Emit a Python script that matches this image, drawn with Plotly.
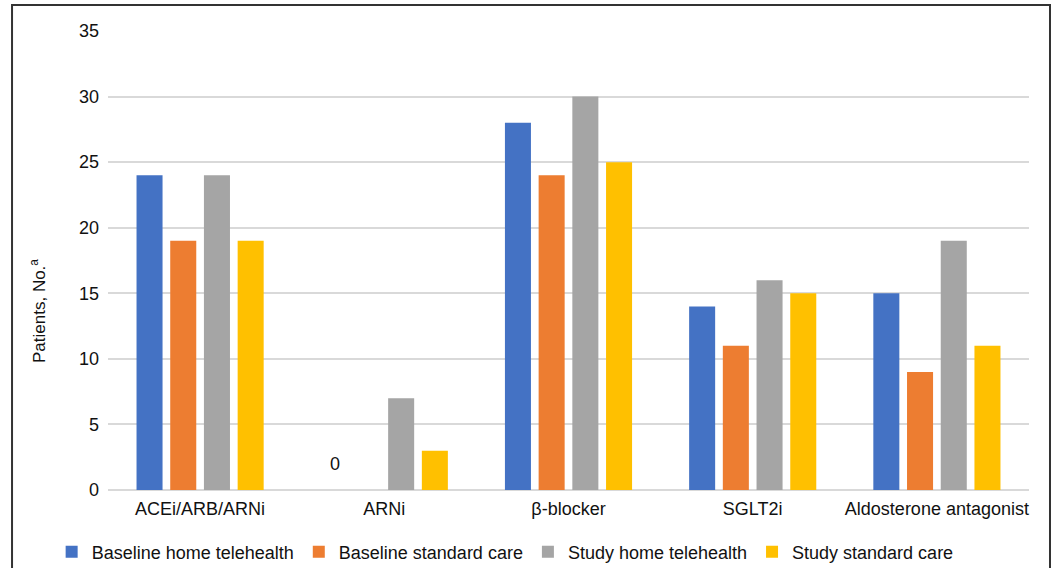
import plotly.graph_objects as go

categories = ["ACEi/ARB/ARNi", "ARNi", "β-blocker", "SGLT2i", "Aldosterone antagonist"]
baseline_home = [24, 0, 28, 14, 15]
baseline_standard = [19, 0, 24, 11, 9]
study_home = [24, 7, 30, 16, 19]
study_standard = [19, 3, 25, 15, 11]

series = [
    ("Baseline home telehealth", baseline_home, "#4472C4"),
    ("Baseline standard care", baseline_standard, "#ED7D31"),
    ("Study home telehealth", study_home, "#A5A5A5"),
    ("Study standard care", study_standard, "#FFC000"),
]

FONT = "Liberation Sans, Arial, Helvetica, sans-serif"

fig = go.Figure()
for name, vals, color in series:
    fig.add_trace(go.Bar(
        name=name, x=categories, y=vals,
        marker=dict(color=color, line=dict(width=0)),
    ))

# value label on the ARNi baseline home telehealth bar
fig.add_annotation(
    x=categories[1], y=baseline_home[1], text=str(baseline_home[1]),
    showarrow=False, xshift=-49, yshift=14, yanchor="bottom",
    font=dict(family=FONT, size=18, color="#111"),
)

# rotated y-axis title
fig.add_annotation(
    xref="paper", yref="paper", x=-0.076, y=0.39, xanchor="center", yanchor="middle",
    text="Patients, No.<sup>a</sup>", textangle=-90, showarrow=False,
    font=dict(family=FONT, size=17, color="#111"),
)

# outer frame
fig.add_shape(
    type="rect", xref="paper", yref="paper",
    x0=-0.1042, x1=1.0228, y0=-0.3, y1=1.0566,
    line=dict(color="#333", width=2), fillcolor="rgba(0,0,0,0)", layer="below",
)

fig.update_layout(
    width=1054, height=568,
    margin=dict(l=108, r=25, t=31, b=78),
    paper_bgcolor="white", plot_bgcolor="white",
    barmode="group", bargap=0.268, bargroupgap=0.228,
    font=dict(family=FONT, size=18, color="#111"),
    showlegend=True,
    legend=dict(
        orientation="h", xref="container", yref="container",
        x=0.049, y=0.028, xanchor="left", yanchor="middle",
        font=dict(family=FONT, size=18, color="#111"),
        itemwidth=30, bgcolor="rgba(0,0,0,0)",
    ),
    xaxis=dict(
        showgrid=False, showline=False, ticks="",
        ticklabelstandoff=6,
        tickfont=dict(family=FONT, size=18, color="#111"),
    ),
    yaxis=dict(
        range=[0, 35], dtick=5, showgrid=True, gridcolor="#d9d9d9", gridwidth=2,
        zeroline=True, zerolinecolor="#d9d9d9", zerolinewidth=2,
        showline=False, ticks="", ticklabelstandoff=8,
        tickfont=dict(family=FONT, size=18, color="#111"),
    ),
)

fig.write_html("out.html")
